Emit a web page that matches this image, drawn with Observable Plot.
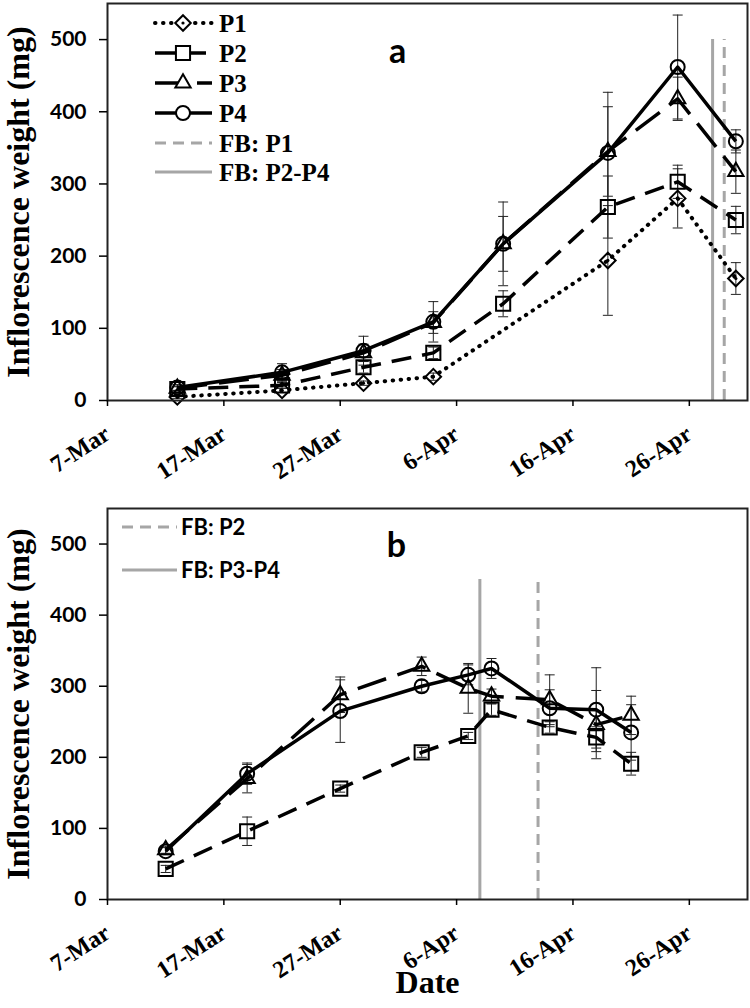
<!DOCTYPE html>
<html><head><meta charset="utf-8">
<script src="https://cdn.jsdelivr.net/npm/d3@7"></script>
<script src="https://cdn.jsdelivr.net/npm/@observablehq/plot@0.6"></script>
<style>
body{margin:0;background:#fff;}
#wrap{position:relative;width:750px;height:1008px;overflow:hidden;}
#wrap svg{position:absolute;left:0;overflow:visible;}
</style></head><body><div id="wrap"></div>
<script>
// ---------- data ----------
const xTicks = ["2014-03-07","2014-03-17","2014-03-27","2014-04-06","2014-04-16","2014-04-26"];
const yTicks = [0,100,200,300,400,500];

// panel a
const datesA = ["2014-03-13","2014-03-22","2014-03-29","2014-04-04","2014-04-10","2014-04-19","2014-04-25","2014-04-30"];
const p1A    = [5, 14, 24, 33, null, 194, 280, 169];
const p1AErr = [2, 3, 3, 5, null, 76, 41, 22];
const p2A    = [16, 21, 46, 66, 134, 268, 303, 250];
const p2AErr = [3, 4, 8, 8, 18, 43, 23, 19];
const p3A    = [17, 35, 66, 108, 217, 345, 418, 317];
const p3AErr = [3, 8, 12, 15, 38, 62, 30, 30];
const p4A    = [18, 39, 69, 109, 217, 343, 462, 359];
const p4AErr = [4, 12, 20, 28, 58, 84, 72, 16];
const fbA = [{label:"FB: P1", date:"2014-04-29", top:500, dashed:true},
             {label:"FB: P2-P4", date:"2014-04-28", top:500, dashed:false}];

// panel b
const datesB = ["2014-03-12","2014-03-19","2014-03-27","2014-04-03","2014-04-07","2014-04-09","2014-04-14","2014-04-18","2014-04-21"];
const p2B    = [43, 96, 156, 207, 230, 267, 242, 228, 191];
const p2BErr = [5, 20, 5, 7, 5, 8, 8, 15, 16];
const p3B    = [70, 170, 288, 328, 297, 286, 281, 246, 259];
const p3BErr = [5, 20, 25, 13, 35, 10, 35, 48, 27];
const p4B    = [68, 177, 265, 300, 316, 325, 269, 267, 235];
const p4BErr = [5, 15, 44, 8, 14, 14, 26, 59, 39];
const fbB = [{label:"FB: P2", date:"2014-04-13", top:450, dashed:true},
             {label:"FB: P3-P4", date:"2014-04-08", top:450, dashed:false}];

// ---------- styles ----------
const style = {
  P1: {symbol:"diamond2", r:7, dash:"0.5 7.5", width:4, cap:"round"},
  P2: {symbol:"square2",  r:9, dash:"20 11",   width:3.5, cap:"butt"},
  P3: {symbol:"triangle2",r:7.3, dash:"30 12",   width:3.5, cap:"butt"},
  P4: {symbol:"circle",   r:7,   dash:null,      width:3.5, cap:"butt"}
};
const GREY = "#a6a6a6";
const SERIF = "'Liberation Serif','Times New Roman',serif";
const SANS = "Lato,'Open Sans',sans-serif";
const capSymbol = {draw(ctx, size){ const r = Math.sqrt(size/Math.PI); ctx.moveTo(-r,0); ctx.lineTo(r,0); }};
const parse = s => new Date(s + "T00:00:00Z");

function rows(name, dates, vals, errs){
  const out = [];
  dates.forEach((d,i)=>{ if(vals[i]!=null) out.push({series:name, date:parse(d), value:vals[i], err:errs[i]}); });
  return out;
}

function panel({series, fb, height, marginTop, marginBottom, top, letter, letterDx, letterDy, date}){
  const marks = [];
  for (const f of fb) {
    marks.push(Plot.ruleX([f], {x: d=>parse(d.date), y1: 0, y2: d=>d.top, stroke: GREY, strokeWidth: 3,
      strokeDasharray: f.dashed ? "11 7" : null}));
  }
  const all = series.flat();
  marks.push(Plot.ruleX(all, {x:"date", y1:d=>d.value-d.err, y2:d=>d.value+d.err, stroke:"#222", strokeWidth:1}));
  marks.push(Plot.dot(all, {x:"date", y:d=>d.value+d.err, symbol:capSymbol, r:5, stroke:"#222", strokeWidth:1, fill:"none"}));
  marks.push(Plot.dot(all, {x:"date", y:d=>d.value-d.err, symbol:capSymbol, r:5, stroke:"#222", strokeWidth:1, fill:"none"}));
  for (const s of series) {
    const st = style[s[0].series];
    marks.push(Plot.line(s, {x:"date", y:"value", stroke:"#000", strokeWidth:st.width,
      strokeDasharray:st.dash, strokeLinecap:st.cap}));
  }
  for (const s of series) {
    const st = style[s[0].series];
    marks.push(Plot.dot(s, {x:"date", y:"value", symbol:st.symbol, r:st.r, stroke:"#000", strokeWidth:2, fill:"none"}));
    if (s[0].series === "P1") marks.push(Plot.dot(s, {x:"date", y:"value", r:1.6, fill:"#000"}));
  }
  marks.push(Plot.frame({stroke:"#222", strokeWidth:2}));
  marks.push(Plot.axisY({ticks:yTicks, tickSize:8, tickPadding:13, fontSize:21, fontWeight:"bold",
    fontFamily:SANS, label:null, strokeWidth:1.5}));
  marks.push(Plot.axisX({ticks:xTicks.map(parse), tickFormat:d3.utcFormat("%-d-%b"), tickRotate:-33,
    tickSize:6, tickPadding:25, fontSize:24, fontWeight:"bold", fontFamily:SERIF, label:null, strokeWidth:1.5}));
  marks.push(Plot.text(["Inflorescence weight (mg)"], {text:d=>d, frameAnchor:"left", dx:-89, rotate:-90,
    textAnchor:"middle", fontSize:32, fontWeight:"bold", fontFamily:SERIF, fill:"#000"}));
  marks.push(Plot.text([letter], {text:d=>d, frameAnchor:"top-left", dx:letterDx, dy:letterDy, textAnchor:"middle",
    fontSize:34, fontWeight:"bold", fontFamily:SANS, fill:"#000"}));
  if (date) marks.push(Plot.text(["Date"], {text:d=>d, frameAnchor:"bottom", dy:93,
    fontSize:32, fontWeight:"bold", fontFamily:SERIF, fill:"#000"}));
  const svg = Plot.plot({
    width:750, height, marginLeft:107, marginRight:3, marginTop, marginBottom,
    style:{background:"transparent", color:"#000"},
    x:{type:"utc", domain:[parse("2014-03-07"), parse("2014-05-01")]},
    y:{domain:[0,550]},
    marks
  });
  svg.style.top = top + "px";
  return svg;
}

const wrap = document.getElementById("wrap");

// ---- panel a ----
const seriesA = [rows("P1",datesA,p1A,p1AErr), rows("P2",datesA,p2A,p2AErr), rows("P3",datesA,p3A,p3AErr), rows("P4",datesA,p4A,p4AErr)];
const svgA = panel({series:seriesA, fb:fbA, height:480, marginTop:3, marginBottom:80, top:0, letter:"a", letterDx:290, letterDy:35});
wrap.appendChild(svgA);

// legend a
{
  const g = d3.select(svgA).append("g").attr("text-anchor","start");
  const names = ["P1","P2","P3","P4"];
  const ys = [23,53,83,113,143,172];
  const symMap = {diamond2:d3.symbolDiamond2, square2:d3.symbolSquare2, triangle2:d3.symbolTriangle2, circle:d3.symbolCircle};
  names.forEach((n,i)=>{
    const st = style[n];
    g.append("line").attr("x1",155).attr("x2",212).attr("y1",ys[i]).attr("y2",ys[i])
      .attr("stroke","#000").attr("stroke-width",st.width).attr("stroke-dasharray",st.dash)
      .attr("stroke-linecap",st.cap);
    g.append("path").attr("transform",`translate(183,${ys[i]})`)
      .attr("d", d3.symbol(symMap[st.symbol], Math.PI*st.r*st.r)())
      .attr("fill","#fff").attr("stroke","#000").attr("stroke-width",2);
    if (n==="P1") g.append("circle").attr("cx",183).attr("cy",ys[i]).attr("r",1.6).attr("fill","#000");
    g.append("text").attr("x",219).attr("y",ys[i]).attr("dy","0.35em").attr("text-anchor","start").text(n)
      .attr("font-family",SERIF).attr("font-weight","bold").attr("font-size",25);
  });
  fbA.forEach((f,j)=>{
    const y = ys[4+j];
    g.append("line").attr("x1",155).attr("x2",212).attr("y1",y).attr("y2",y)
      .attr("stroke",GREY).attr("stroke-width",3).attr("stroke-dasharray",f.dashed?"11 7":null);
    g.append("text").attr("x",219).attr("y",y).attr("dy","0.35em").attr("text-anchor","start").text(f.label)
      .attr("font-family",SERIF).attr("font-weight","bold").attr("font-size",25);
  });
}

// ---- panel b ----
const seriesB = [rows("P2",datesB,p2B,p2BErr), rows("P3",datesB,p3B,p3BErr), rows("P4",datesB,p4B,p4BErr)];
const svgB = panel({series:seriesB, fb:fbB, height:528, marginTop:28, marginBottom:109, top:480, letter:"b", letterDx:289, letterDy:24, date:true});
wrap.appendChild(svgB);
{
  const g = d3.select(svgB).append("g").attr("text-anchor","start");
  const ys = [47, 90];
  fbB.forEach((f,j)=>{
    g.append("line").attr("x1",122).attr("x2",177).attr("y1",ys[j]).attr("y2",ys[j])
      .attr("stroke",GREY).attr("stroke-width",3).attr("stroke-dasharray",f.dashed?"11 7":null);
    g.append("text").attr("x",181).attr("y",ys[j]).attr("dy","0.35em").attr("text-anchor","start").text(f.label)
      .attr("font-family",SANS).attr("font-weight","bold").attr("font-size",22);
  });
}
</script></body></html>
